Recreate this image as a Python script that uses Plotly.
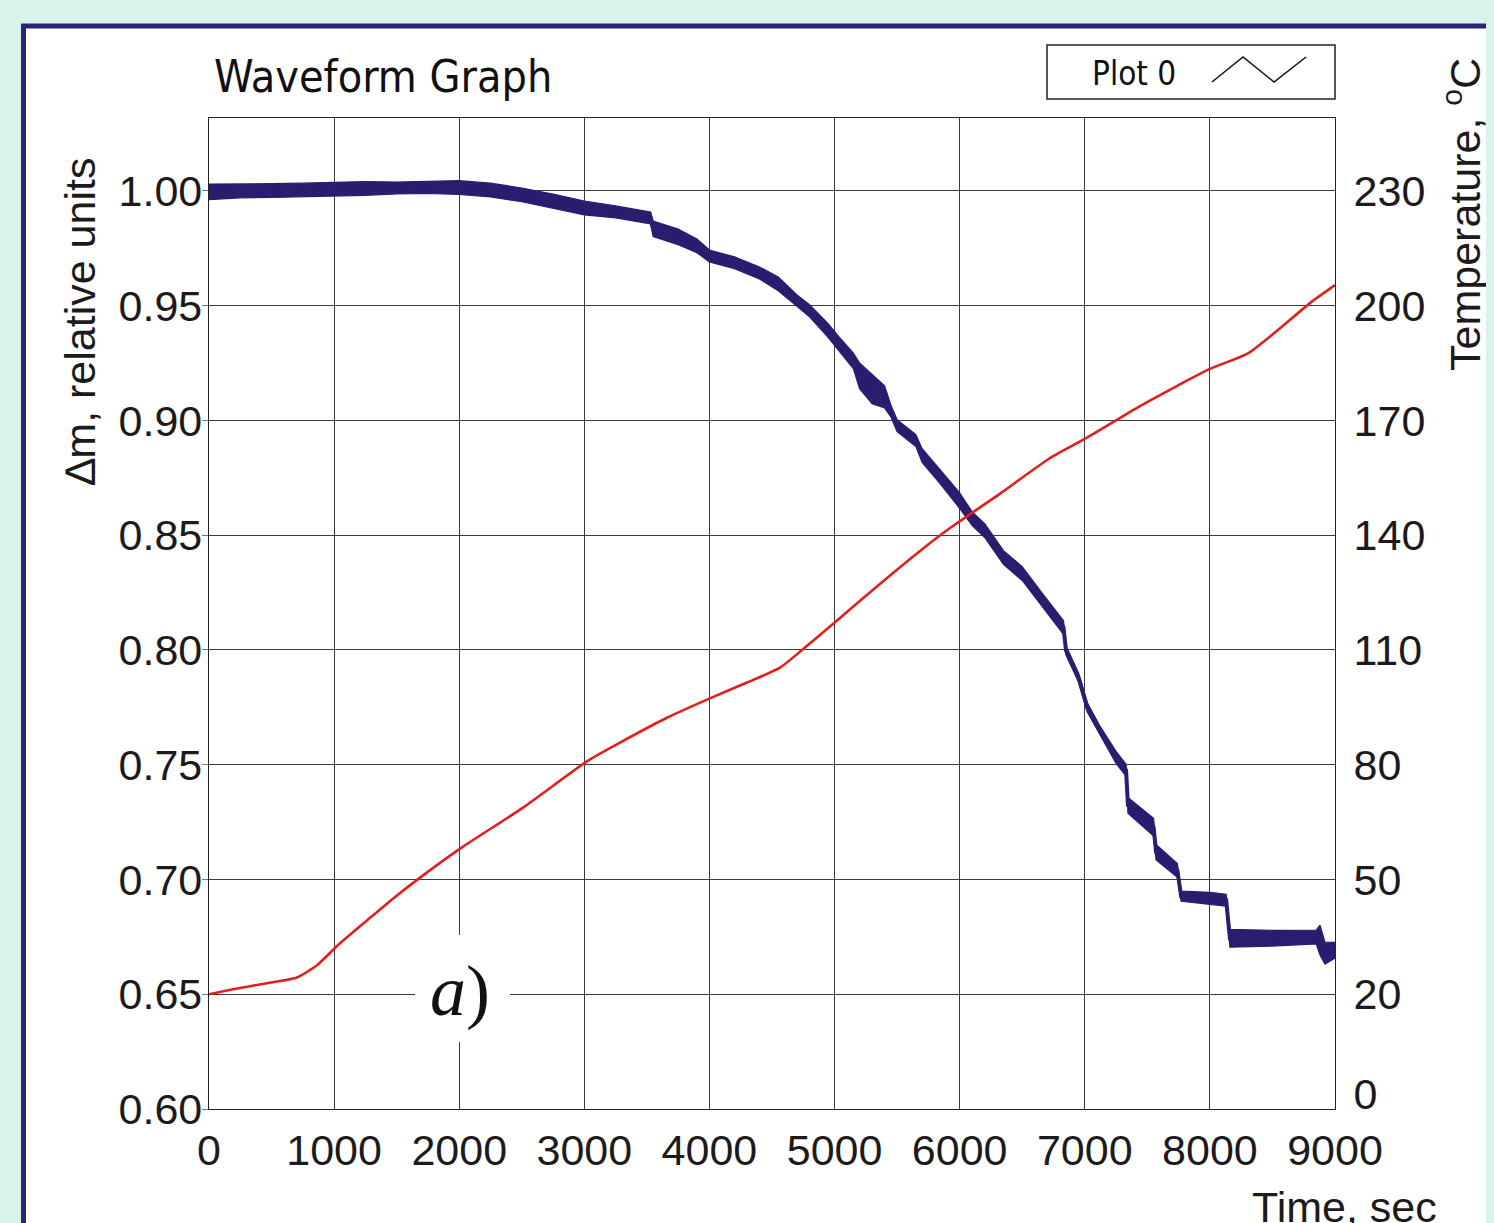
import plotly.graph_objects as go

# ---------------- data ----------------
time_mass = [0, 250, 500, 750, 1000, 1250, 1500, 1750, 2000, 2250, 2500, 2750, 3000,
             3250, 3500, 3530, 3550, 3750, 3900, 4000, 4200, 4400, 4550, 4700, 4800,
             4950, 5050, 5150, 5200, 5300, 5400, 5450, 5500, 5650, 5700, 5850, 6000,
             6100, 6200, 6350, 6500, 6650, 6830, 6850, 6950, 7020, 7120, 7250, 7330,
             7345, 7550, 7570, 7740, 7770, 8000, 8130, 8160, 8500, 8850, 8880, 8920, 9000]
mass = [0.9996, 1.0000, 1.0002, 1.0004, 1.0009, 1.0011, 1.0013, 1.0015, 1.0015, 1.0004,
        0.9983, 0.9956, 0.9926, 0.9909, 0.9887, 0.9882, 0.9835, 0.9800, 0.9761, 0.9717,
        0.9687, 0.9643, 0.9595, 0.9521, 0.9478, 0.9391, 0.9325, 0.9260, 0.9195, 0.9138,
        0.9103, 0.9042, 0.8977, 0.8912, 0.8847, 0.8751, 0.8651, 0.8572, 0.8520, 0.8403,
        0.8333, 0.8224, 0.8098, 0.7998, 0.7880, 0.7750, 0.7650, 0.7532, 0.7476, 0.7323,
        0.7228, 0.7119, 0.7040, 0.6927, 0.6918, 0.6910, 0.6744, 0.6744, 0.6749, 0.6736,
        0.6679, 0.6692]
# half-width of the noise band around the mass trace
mass_spread = [0.0034, 0.0030, 0.0030, 0.0030, 0.0030, 0.0030, 0.0026, 0.0026, 0.0030, 0.0030,
               0.0030, 0.0030, 0.0030, 0.0026, 0.0026, 0.0026, 0.0034, 0.0034, 0.0030, 0.0026,
               0.0026, 0.0026, 0.0030, 0.0026, 0.0026, 0.0030, 0.0030, 0.0034, 0.0056, 0.0065,
               0.0048, 0.0026, 0.0026, 0.0026, 0.0030, 0.0030, 0.0034, 0.0030, 0.0030, 0.0030,
               0.0030, 0.0030, 0.0030, 0.0020, 0.0020, 0.0020, 0.0020, 0.0026, 0.0026, 0.0034,
               0.0039, 0.0034, 0.0030, 0.0022, 0.0026, 0.0026, 0.0039, 0.0034, 0.0030, 0.0065,
               0.0048, 0.0034]

time_temp = [0, 192, 463, 703, 863, 1030, 1263, 1470, 1687, 2022, 2510, 3030, 3285, 3660,
             4013, 4300, 4564, 4740, 5020, 5204, 5683, 5923, 6323, 6723, 7010, 7442,
             8000, 8297, 8505, 8800, 9000]
temperature = [20.0, 21.3, 22.9, 24.4, 27.6, 32.8, 39.3, 45.0, 50.5, 58.4, 68.8, 81.1, 85.8,
               92.3, 97.5, 101.5, 105.4, 110.0, 117.7, 122.9, 135.9, 141.9, 150.9, 160.2,
               165.4, 173.8, 183.5, 187.4, 192.6, 200.7, 205.4]

x_ticks = [0, 1000, 2000, 3000, 4000, 5000, 6000, 7000, 8000, 9000]
left_ticks = [0.60, 0.65, 0.70, 0.75, 0.80, 0.85, 0.90, 0.95, 1.00]
left_ticktext = ["0.60", "0.65", "0.70", "0.75", "0.80", "0.85", "0.90", "0.95", "1.00"]
right_ticks = [-6, 20, 50, 80, 110, 140, 170, 200, 230]
right_ticktext = ["0", "20", "50", "80", "110", "140", "170", "200", "230"]

# ---------------- styling ----------------
BLUE = "#2b1c70"
RED = "#e0201b"
TXT = "#1c1a1a"
GRID = "#3c3c3c"
BG = "#d8f3ec"
TICKFONT = dict(family="Liberation Sans, Arial, sans-serif", size=43, color=TXT)
TAHOMA = "DejaVu Sans Condensed, Liberation Sans, sans-serif"

upper = [m + s for m, s in zip(mass, mass_spread)]
lower = [m - s for m, s in zip(mass, mass_spread)]

fig = go.Figure()
fig.add_trace(go.Scatter(x=time_mass, y=lower, mode="lines",
                         line=dict(color=BLUE, width=1.2), showlegend=False, hoverinfo="skip"))
fig.add_trace(go.Scatter(x=time_mass, y=upper, mode="lines", fill="tonexty", fillcolor=BLUE,
                         line=dict(color=BLUE, width=1.2), showlegend=False, hoverinfo="skip"))
fig.add_trace(go.Scatter(x=time_mass, y=mass, mode="lines", name="Plot 0",
                         line=dict(color=BLUE, width=4), showlegend=False))
fig.add_trace(go.Scatter(x=time_temp, y=temperature, mode="lines", yaxis="y2",
                         line=dict(color=RED, width=2.6, shape="spline", smoothing=0.6),
                         showlegend=False))

# page is offset by the 8px body margin
OFF = 8
W, H = 1494, 1223
L, T = 209 - OFF, 118 - OFF
pw, ph = 1126, 991
R = W - L - pw
B = H - T - ph


def px(x):
    return (x - OFF - L) / pw


def py(y):
    return (T + ph - (y - OFF)) / ph


shapes = [
    # white panel with navy frame
    dict(type="rect", xref="paper", yref="paper", layer="below",
         x0=px(23.5), x1=px(1540), y0=py(1270), y1=py(26),
         fillcolor="white", line=dict(color="#2d2275", width=5)),
    # legend box
    dict(type="rect", xref="paper", yref="paper",
         x0=px(1047), x1=px(1335), y0=py(99), y1=py(45),
         fillcolor="white", line=dict(color="#222", width=1.5)),
    dict(type="path", xref="paper", yref="paper",
         path=f"M {px(1212)} {py(82)} L {px(1243)} {py(57)} L {px(1274)} {py(82)} L {px(1306)} {py(57)}",
         line=dict(color="#111", width=1.5)),
    # white patch behind the "a)" label
    dict(type="rect", xref="paper", yref="paper", layer="above",
         x0=px(415), x1=px(510), y0=py(1042), y1=py(935),
         fillcolor="white", line=dict(width=0)),
]

annotations = [
    dict(text="Waveform Graph", xref="paper", yref="paper", x=px(212), y=py(76),
         xanchor="left", yanchor="middle", showarrow=False,
         font=dict(family=TAHOMA, size=44.5, color="#111")),
    dict(text="Plot 0", xref="paper", yref="paper", x=px(1090), y=py(74),
         xanchor="left", yanchor="middle", showarrow=False,
         font=dict(family=TAHOMA, size=33, color="#111")),
    dict(text="∆m, relative units", xref="paper", yref="paper", x=px(80), y=py(322),
         xanchor="center", yanchor="middle", textangle=-90, showarrow=False,
         font=TICKFONT),
    dict(text="Temperature, <sup>o</sup>C", xref="paper", yref="paper", x=px(1462), y=py(215),
         xanchor="center", yanchor="middle", textangle=-90, showarrow=False,
         font=TICKFONT),
    dict(text="Time, sec", xref="paper", yref="paper", x=px(1344), y=py(1207),
         xanchor="center", yanchor="middle", showarrow=False, font=TICKFONT),
    dict(text="<i>a</i>)", xref="paper", yref="paper", x=px(460), y=py(991),
         xanchor="center", yanchor="middle", showarrow=False,
         font=dict(family="Liberation Serif, Times New Roman, serif", size=72, color="#111")),
]

fig.update_layout(
    width=W, height=H, autosize=False,
    margin=dict(l=L, r=R, t=T, b=B, pad=0),
    paper_bgcolor=BG, plot_bgcolor="white",
    showlegend=False,
    shapes=shapes, annotations=annotations,
    xaxis=dict(range=[0, 9000], tickvals=x_ticks, ticktext=[str(v) for v in x_ticks],
               showgrid=True, gridcolor=GRID, gridwidth=1, zeroline=False,
               showline=True, linecolor="#222", linewidth=1.3, mirror=True,
               ticks="outside", ticklen=3, tickcolor="rgba(0,0,0,0)",
               tickfont=TICKFONT),
    yaxis=dict(range=[0.60, 1.0318], tickvals=left_ticks, ticktext=left_ticktext,
               showgrid=True, gridcolor=GRID, gridwidth=1, zeroline=False,
               showline=True, linecolor="#222", linewidth=1.3, mirror=True,
               ticks="outside", ticklen=6, tickcolor="#777", ticklabelstandoff=-9,
               tickfont=TICKFONT),
    yaxis2=dict(range=[-10, 249.1], overlaying="y", side="right",
                tickvals=right_ticks, ticktext=right_ticktext,
                showgrid=False, zeroline=False, showline=False,
                ticks="outside", ticklen=9, tickcolor="rgba(0,0,0,0)",
                tickfont=TICKFONT),
)

fig.write_html("out.html", post_script=f"document.body.style.background='{BG}';")
